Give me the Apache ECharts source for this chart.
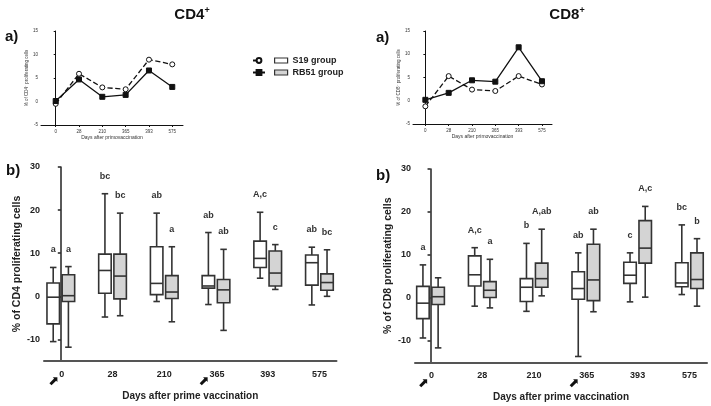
<!DOCTYPE html>
<html>
<head>
<meta charset="utf-8" />
<title>CD4 / CD8 proliferation</title>
<script src="https://cdn.jsdelivr.net/npm/echarts@6/dist/echarts.min.js"></script>
<style>
	html, body { margin: 0; padding: 0; background: #fff; }
	#main { width: 711px; height: 406px; }
</style>
</head>
<body>
<div id="main"></div>
<script type="text/javascript">
	var days = ['0', '28', '210', '365', '393', '575'];
	var arrowDays = ['0', '365'];
	var boxTicks = [-10, 0, 10, 20, 30];

	/* a) median % proliferating cells */
	var cd4MedS19 = [-0.5, 5.9, 3.0, 2.6, 8.9, 7.9];
	var cd4MedRB51 = [0.1, 4.7, 1.0, 1.4, 6.6, 3.1];
	var cd8MedS19 = [-1.2, 5.3, 2.4, 2.1, 5.3, 3.5];
	var cd8MedRB51 = [0.2, 1.7, 4.4, 4.1, 11.5, 4.2];

	/* b) min, q1, median, q3, max */
	var cd4BoxS19 = [
		[-10.5, -6.4, -0.2, 3.1, 6.7],
		[-4.8, 0.7, 6.0, 9.8, 23.8],
		[-1.2, 0.4, 3.0, 11.5, 19.3],
		[-1.9, 1.9, 2.4, 4.8, 14.8],
		[4.2, 6.7, 8.8, 12.8, 19.5],
		[-2.0, 2.6, 7.8, 9.6, 11.4]
	];
	var cd4BoxRB51 = [
		[-11.8, -1.2, 0.15, 5.0, 6.9],
		[-4.5, -0.6, 4.7, 9.8, 19.3],
		[-5.9, -0.5, 1.0, 4.8, 11.5],
		[-7.9, -1.5, 1.5, 3.9, 10.9],
		[1.6, 2.4, 5.4, 10.5, 12.0],
		[0.0, 1.4, 3.2, 5.2, 10.8]
	];
	var cd8BoxS19 = [
		[-9.3, -4.8, -1.2, 2.7, 7.7],
		[-1.9, 2.8, 5.4, 9.8, 11.7],
		[-3.1, -0.8, 2.5, 4.5, 12.7],
		[-13.6, -0.3, 2.2, 6.1, 10.5],
		[-0.9, 3.4, 5.3, 8.3, 10.5],
		[0.8, 2.6, 3.5, 8.2, 17.0]
	];
	var cd8BoxRB51 = [
		[-11.6, -1.5, 0.3, 2.5, 4.7],
		[-2.3, 0.1, 1.8, 3.8, 9.0],
		[0.5, 2.5, 4.5, 8.1, 16.0],
		[-3.2, -0.6, 4.2, 12.5, 16.0],
		[0.2, 8.1, 11.6, 18.0, 21.3],
		[-1.9, 2.2, 4.3, 10.5, 13.8]
	];

	var cd4LetS19 = ['a', 'bc', 'ab', 'ab', 'A,c', 'ab'];
	var cd4LetRB51 = ['a', 'bc', 'a', 'ab', 'c', 'bc'];
	var cd8LetS19 = ['a', 'A,c', 'b', 'ab', 'c', 'bc'];
	var cd8LetRB51 = ['', 'a', 'A,ab', 'ab', 'A,c', 'b'];

	var FONT = 'Liberation Sans, Arial, sans-serif';

	function pairs(arr) {
		return arr.map(function (v, i) { return [i, v]; });
	}

	function miniX(idx, min, max) {
		return {
			type: 'value', gridIndex: idx, min: min, max: max,
			name: 'Days after primovaccination', nameLocation: 'middle', nameGap: 9,
			nameTextStyle: { fontSize: 5, fontFamily: FONT, color: '#333' },
			splitLine: { show: false },
			axisLine: { onZero: false, lineStyle: { color: '#111', width: 1 } },
			axisTick: { customValues: [0, 1, 2, 3, 4, 5], length: 2, lineStyle: { color: '#111' } },
			axisLabel: {
				customValues: [0, 1, 2, 3, 4, 5], margin: 4, fontSize: 4.5, fontFamily: FONT, color: '#333',
				formatter: function (v) { return days[Math.round(v)]; }
			}
		};
	}

	function miniY(idx, cell) {
		return {
			type: 'value', gridIndex: idx, min: -5, max: 15, interval: 5,
			name: '% of ' + cell + '\u207A proliferating cells', nameLocation: 'middle', nameGap: 8,
			nameTextStyle: { fontSize: 4.5, fontFamily: FONT, color: '#333' },
			splitLine: { show: false },
			axisLine: { show: true, lineStyle: { color: '#111', width: 1 } },
			axisTick: { show: true, length: 2, lineStyle: { color: '#111' } },
			axisLabel: { margin: 3, fontSize: 4.5, fontFamily: FONT, color: '#333' }
		};
	}

	function boxX(idx, min, max) {
		return {
			type: 'value', gridIndex: idx, min: min, max: max,
			name: 'Days after prime vaccination', nameLocation: 'middle', nameGap: 30,
			nameTextStyle: { fontSize: 10, fontWeight: 'bold', fontFamily: FONT, color: '#222' },
			splitLine: { show: false },
			axisLine: { onZero: false, lineStyle: { color: '#555', width: 2 } },
			axisTick: { show: false },
			axisLabel: {
				customValues: [0, 1, 2, 3, 4, 5], margin: 9,
				formatter: function (v) {
					var d = days[Math.round(v)];
					if (arrowDays.indexOf(d) >= 0) return '{ar|\u2B08}{p|' + d + '}';
					return '{v|' + d + '}';
				},
				rich: {
					v: { fontSize: 9, fontWeight: 'bold', fontFamily: FONT, color: '#222', lineHeight: 11, verticalAlign: 'top' },
					p: { fontSize: 9, fontWeight: 'bold', fontFamily: FONT, color: '#222', lineHeight: 11, verticalAlign: 'top',
						padding: [0, 9, 0, 0] },
					ar: { fontSize: 13, color: '#111', lineHeight: 24, fontFamily: 'DejaVu Sans' }
				}
			}
		};
	}

	function boxY(idx, cell, gap) {
		return {
			type: 'value', gridIndex: idx, min: -15, max: 30,
			name: '% of ' + cell + ' proliferating cells', nameLocation: 'middle', nameGap: gap,
			nameTextStyle: { fontSize: 10.5, fontWeight: 'bold', fontFamily: FONT, color: '#222' },
			splitLine: { show: false },
			axisLine: { show: true, lineStyle: { color: '#222', width: 1.5 } },
			axisTick: { show: true, customValues: boxTicks, length: 3, lineStyle: { color: '#222', width: 1.5 } },
			axisLabel: { customValues: boxTicks, margin: 4, fontSize: 9, fontWeight: 'bold', fontFamily: FONT, color: '#222' }
		};
	}

	function lineSeries(name, idx, data, dashed) {
		return {
			name: name, type: 'line', xAxisIndex: idx, yAxisIndex: idx,
			data: pairs(data),
			symbol: dashed ? 'circle' : 'rect', symbolSize: 5,
			itemStyle: { color: dashed ? '#fff' : '#111', borderColor: '#111', borderWidth: 1 },
			lineStyle: { color: '#111', width: 1.3, type: dashed ? 'dashed' : 'solid' },
			z: 3
		};
	}

	function boxSeries(name, idx, rows, letters, side, fill) {
		return {
			name: name, type: 'custom', xAxisIndex: idx, yAxisIndex: idx,
			data: rows.map(function (r, i) { return [i].concat(r); }),
			encode: { x: 0, y: [1, 2, 3, 4, 5] },
			itemStyle: { color: fill, borderColor: '#333' },
			renderItem: function (params, api) {
				var x = api.value(0);
				var lo = api.coord([x, api.value(1)]);
				var q1 = api.coord([x, api.value(2)]);
				var md = api.coord([x, api.value(3)]);
				var q3 = api.coord([x, api.value(4)]);
				var hi = api.coord([x, api.value(5)]);
				var cx = lo[0] + side * 7.6;
				var w = 12.5, cap = 6.5;
				var st = { stroke: '#333', lineWidth: 1.6 };
				return {
					type: 'group',
					children: [
						{ type: 'line', shape: { x1: cx, y1: hi[1], x2: cx, y2: q3[1] }, style: st },
						{ type: 'line', shape: { x1: cx, y1: q1[1], x2: cx, y2: lo[1] }, style: st },
						{ type: 'line', shape: { x1: cx - cap / 2, y1: hi[1], x2: cx + cap / 2, y2: hi[1] }, style: st },
						{ type: 'line', shape: { x1: cx - cap / 2, y1: lo[1], x2: cx + cap / 2, y2: lo[1] }, style: st },
						{ type: 'rect', shape: { x: cx - w / 2, y: q3[1], width: w, height: q1[1] - q3[1] },
							style: { fill: fill, stroke: '#333', lineWidth: 1.6 } },
						{ type: 'line', shape: { x1: cx - w / 2, y1: md[1], x2: cx + w / 2, y2: md[1] }, style: st },
						{ type: 'text', x: cx, y: hi[1] - 13,
							style: { text: letters[params.dataIndex], align: 'center', verticalAlign: 'bottom',
								fontSize: 9, fontWeight: 'bold', fontFamily: FONT, fill: '#333' } }
					]
				};
			}
		};
	}

	var titleRich = {
		m: { fontSize: 15, fontWeight: 'bold', fontFamily: FONT, color: '#111', lineHeight: 18 },
		s: { fontSize: 9, fontWeight: 'bold', fontFamily: FONT, color: '#111', lineHeight: 18, verticalAlign: 'top' }
	};
	var panelStyle = { fontSize: 15, fontWeight: 'bold', fontFamily: FONT, color: '#111' };

	var myChart = echarts.init(document.getElementById('main'));
	var option = {
		animation: false,
		backgroundColor: '#fff',
		title: [
			{ text: '{m|CD4}{s|+}', left: 187, top: 1, textAlign: 'center', textStyle: { rich: titleRich } },
			{ text: '{m|CD8}{s|+}', left: 562, top: 1, textAlign: 'center', textStyle: { rich: titleRich } },
			{ text: 'a)', left: 0, top: 24, textStyle: panelStyle },
			{ text: 'a)', left: 371, top: 25, textStyle: panelStyle },
			{ text: 'b)', left: 1, top: 158, textStyle: panelStyle },
			{ text: 'b)', left: 371, top: 163, textStyle: panelStyle }
		],
		legend: [
			{
				left: 247, top: 51, orient: 'vertical', itemWidth: 12, itemHeight: 6, itemGap: 3,
				data: ['S19 group', 'RB51 group'],
				formatter: function () { return ' '; },
				textStyle: { fontSize: 9, fontFamily: FONT }
			},
			{
				left: 269, top: 51, orient: 'vertical', itemWidth: 13, itemHeight: 5, itemGap: 3,
				data: [
					{ name: 'S19 group', icon: 'rect', itemStyle: { color: '#fff', borderColor: '#333', borderWidth: 1.2 } },
					{ name: 'RB51 group', icon: 'rect', itemStyle: { color: '#d4d4d4', borderColor: '#333', borderWidth: 1.2 } }
				],
				textStyle: { fontSize: 9, fontWeight: 'bold', fontFamily: FONT, color: '#222' }
			}
		],
		grid: [
			{ left: 41, top: 31, width: 142, height: 94 },
			{ left: 413, top: 31, width: 139, height: 93 },
			{ left: 44, top: 167, width: 292.5, height: 194 },
			{ left: 415, top: 169, width: 292, height: 193.5 }
		],
		xAxis: [
			miniX(0, -0.63, 5.46),
			miniX(1, -0.53, 5.43),
			boxX(2, -0.325, 5.33),
			boxX(3, -0.30, 5.34)
		],
		yAxis: [
			miniY(0, 'CD4'),
			miniY(1, 'CD8'),
			boxY(2, 'CD4', 16),
			boxY(3, 'CD8', 19)
		],
		series: [
			lineSeries('S19 group', 0, cd4MedS19, true),
			lineSeries('RB51 group', 0, cd4MedRB51, false),
			lineSeries('S19 group', 1, cd8MedS19, true),
			lineSeries('RB51 group', 1, cd8MedRB51, false),
			boxSeries('S19 group', 2, cd4BoxS19, cd4LetS19, -1, '#ffffff'),
			boxSeries('RB51 group', 2, cd4BoxRB51, cd4LetRB51, 1, '#d4d4d4'),
			boxSeries('S19 group', 3, cd8BoxS19, cd8LetS19, -1, '#ffffff'),
			boxSeries('RB51 group', 3, cd8BoxRB51, cd8LetRB51, 1, '#d4d4d4')
		]
	};
	myChart.setOption(option);
</script>
</body>
</html>
